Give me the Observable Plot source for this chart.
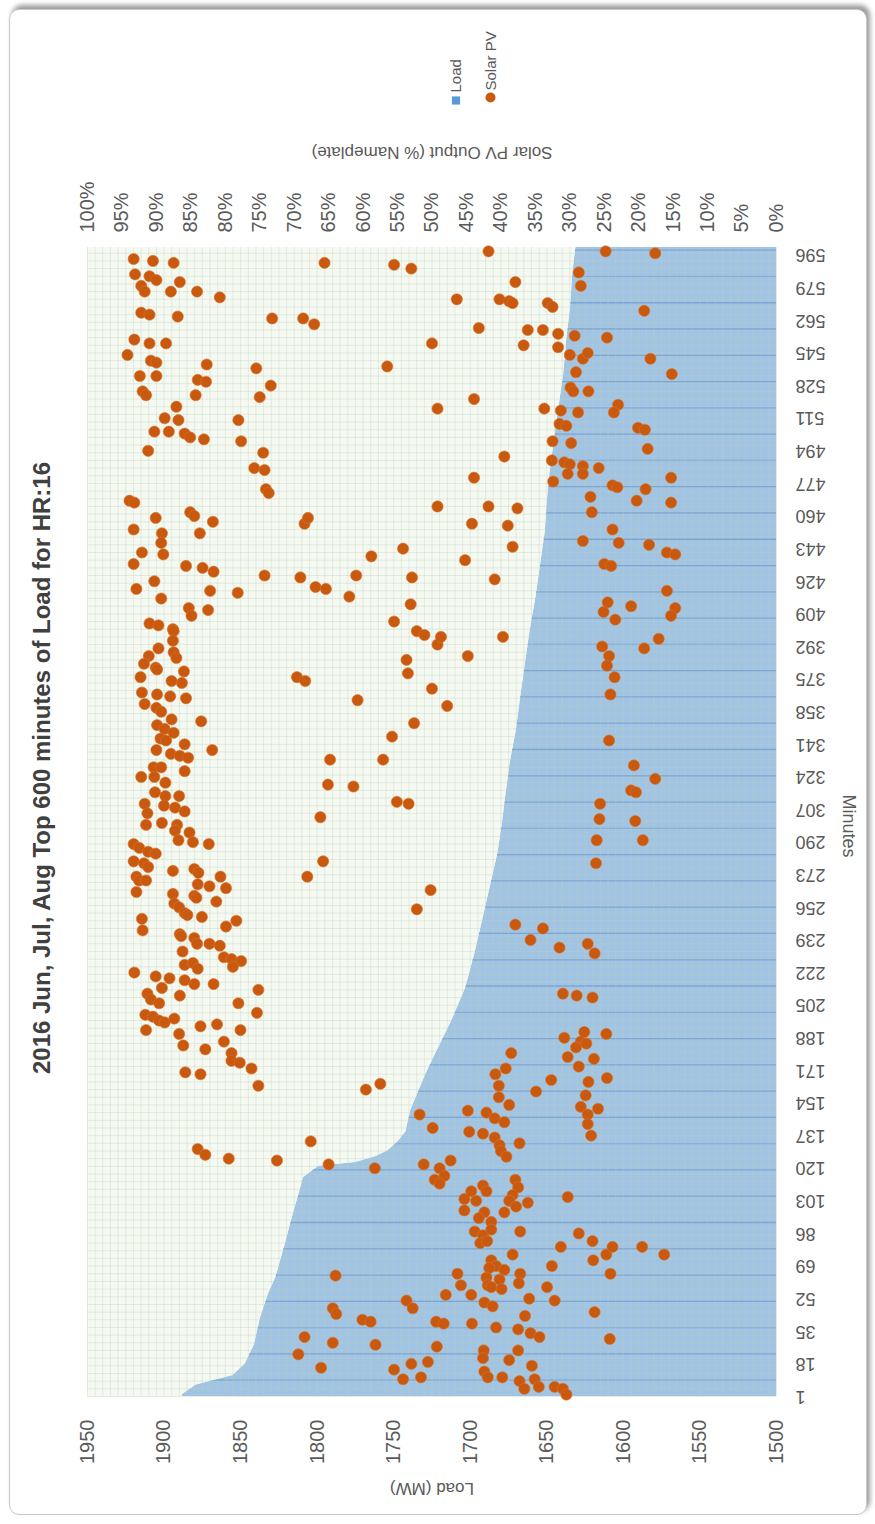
<!DOCTYPE html>
<html>
<head>
<meta charset="utf-8">
<script src="https://cdn.jsdelivr.net/npm/d3@7"></script>
<script src="https://cdn.jsdelivr.net/npm/@observablehq/plot@0.6"></script>
<style>
  html, body { margin: 0; padding: 0; background: #ffffff; }
  #wrap { position: relative; width: 875px; height: 1524px; overflow: hidden; }
  #card { position: absolute; left: 9px; top: 9px; width: 856px; height: 1504px;
          border: 1.5px solid #c9c9c9; border-radius: 10px; background: #ffffff;
          box-shadow: 3px -4px 5px rgba(0,0,0,0.40); }
  #chart { position: absolute; left: 0; top: 0; }
</style>
</head>
<body>
<div id="wrap"><div id="card"></div><div id="chart"></div></div>
<script>
// ---------- data ----------
const title = "2016 Jun, Jul, Aug Top 600 minutes of Load for HR:16";
const minuteTicks = [1,18,35,52,69,86,103,120,137,154,171,188,205,222,239,256,273,290,307,324,341,358,375,392,409,426,443,460,477,494,511,528,545,562,579,596];
const loadTicks = [1950,1900,1850,1800,1750,1700,1650,1600,1550,1500];
const pctTicks = [100,95,90,85,80,75,70,65,60,55,50,45,40,35,30,25,20,15,10,5,0];

// Load (MW) sorted, read at breakpoints
const loadMinute = [1,2,7,12,18,28,42,54,63,80,98,106,115,121,123,126,129,134,139,150,169,179,197,214,232,249,270,284,300,313,331,348,366,383,400,418,435,452,465,482,500,517,534,552,569,587,600];
const loadMW     = [1888,1888,1879,1855,1847,1841,1837,1832,1827,1821,1815,1812,1809,1799,1775,1762,1754,1747,1742,1739,1729,1723,1712,1703,1697,1692,1686,1682,1679,1677,1674,1670,1667,1664,1661,1657,1654,1651,1650,1648,1645,1642,1639,1637,1634.5,1633,1631];

// Solar PV output (% of nameplate) per minute
const solarMinute = [
594,593,592,586,585,583,580,577,577,582,577,574,566,565,564,563,563,560,592,591,589,550,552,550,550,544,541,540,539,533,533,531,530,525,523,523,537,528,522,517,511,510,504,504,503,501,500,494,510,499,493,485,484,474,472,468,467,459,462,460,457,453,451,451,456,459,516,465,538,
598,598,597,587,580,582,573,573,572,571,571,569,567,558,557,557,555,554,549,548,553,544,542,545,542,535,534,527,525,525,521,516,515,514,518,514,508,507,506,505,499,498,495,491,489,488,487,486,482,482,485,480,478,476,475,480,474,465,464,470,468,467,462,456,455,453,
446,440,441,435,434,433,431,426,422,417,421,420,412,408,411,429,428,423,422,429,439,443,428,418,414,405,400,398,393,404,403,401,400,395,391,387,383,389,386,381,380,379,373,376,374,368,362,367,366,365,360,358,354,351,349,347,344,343,353,341,338,338,336,335,334,329,329,324,324,327,316,321,314,314,310,305,309,308,306,300,299,376,374,364,385,378,370,352,345,333,333,320,319,311,310,303,
444,437,427,397,397,387,361,447,446,445,441,440,435,434,421,415,410,406,413,412,408,396,391,392,387,382,376,367,343,330,323,317,316,310,302,301,
299,296,291,295,290,289,289,287,285,284,280,279,277,275,276,274,272,272,270,270,268,267,266,264,263,258,256,253,252,262,261,259,251,250,244,246,249,242,241,240,237,237,236,233,230,229,228,225,226,227,224,222,220,219,218,216,216,214,211,208,206,210,200,199,197,196,198,192,194,195,190,184,186,182,180,176,175,172,170,169,163,213,206,201,192,280,272,265,255,161,164,148,
291,291,279,247,245,239,235,237,232,211,210,209,188,191,186,183,185,190,178,177,173,180,172,169,166,160,165,167,163,157,153,158,152,151,150,149,
130,127,125,124,134,122,120,141,122,114,64,47,44,41,40,51,47,32,29,28,23,16,15,10,18,11,19,40,27,
146,144,139,138,136,132,129,126,133,148,143,137,120,124,116,112,114,110,106,103,97,100,102,111,108,108,104,103,98,97,94,92,87,85,88,81,82,105,87,86,82,75,79,79,75,79,75,72,65,69,72,69,68,67,65,60,65,59,54,63,59,62,57,58,54,58,52,51,50,48,45,43,39,39,37,36,34,32,31,25,21,25,20,17,14,11,11,9,5,10,6,6,5,2
];
const solarPct = [
93.3,90.5,87.5,93.1,91.0,90.0,92.2,91.7,87.9,86.6,84.1,80.8,92.2,91.0,86.9,73.2,68.7,67.1,65.6,55.5,53.0,50.0,93.2,91.0,88.6,94.2,90.8,90.0,82.7,92.4,90.0,84.0,82.8,92.0,91.5,84.3,75.5,73.4,75.0,87.1,88.8,86.8,90.3,88.2,85.9,85.1,83.1,91.2,78.1,77.7,74.5,75.8,74.3,74.1,73.7,93.9,93.2,90.1,85.1,84.5,81.8,93.3,89.2,83.7,68.5,68.0,49.2,49.2,56.5,
41.8,24.8,17.6,28.7,28.4,37.9,46.4,40.2,38.8,38.3,33.2,32.5,19.2,43.2,36.1,33.9,31.7,29.3,36.7,31.7,24.6,30.0,28.1,27.4,18.3,29.1,15.2,29.9,29.5,27.3,43.9,33.7,31.3,28.8,23.0,23.6,31.5,30.5,20.1,19.1,32.5,29.8,18.7,39.5,32.6,30.8,30.0,28.1,28.1,30.3,25.8,43.9,32.4,23.8,23.1,15.3,19.0,41.8,37.6,27.0,20.3,15.3,26.8,44.2,39.0,23.8,
89.3,89.0,92.1,93.3,85.7,83.3,81.7,90.3,92.9,89.3,82.2,78.2,85.3,84.9,82.5,74.3,69.1,66.9,65.4,61.0,58.8,54.2,52.9,62.0,53.1,55.5,52.2,51.1,49.2,91.0,89.7,87.6,87.5,87.6,89.7,91.1,91.8,87.5,87.1,90.1,89.9,86.0,86.3,92.3,87.8,92.1,91.7,89.9,88.0,85.7,90.0,89.3,87.8,89.9,88.8,87.5,89.4,88.6,83.5,85.9,81.9,90.0,87.9,86.6,85.4,90.4,89.3,90.3,92.2,85.9,90.2,88.7,88.7,86.7,91.7,91.3,88.9,87.3,85.9,89.2,87.0,69.6,68.4,60.8,53.7,53.5,50.0,52.6,55.8,64.8,57.1,65.1,61.4,55.1,53.4,66.2,
38.3,45.2,40.9,48.7,39.7,44.8,47.8,28.1,22.9,18.5,15.9,14.7,25.0,24.0,15.9,24.5,25.1,23.4,21.1,14.7,15.3,17.1,19.2,25.3,24.3,24.6,23.5,24.1,24.3,20.7,17.6,21.1,20.4,25.6,25.7,20.5,
91.5,87.3,86.8,85.2,84.7,82.4,93.3,92.5,91.2,90.1,93.3,91.8,91.2,87.6,84.5,83.9,80.7,92.9,92.5,91.5,84.0,82.3,79.9,92.9,87.6,87.4,86.7,85.9,85.5,84.5,84.2,81.3,83.4,92.1,92.0,79.9,78.4,86.6,86.4,84.5,84.1,82.3,80.8,86.2,80.2,79.1,77.7,78.9,85.9,84.7,84.0,93.2,90.1,88.1,85.9,84.5,81.7,89.2,91.3,90.8,89.6,86.6,91.6,90.5,89.6,88.8,87.4,91.5,83.6,81.2,86.7,86.1,80.2,82.9,79.1,79.1,77.9,76.2,85.8,83.6,75.2,75.2,78.1,75.4,77.8,65.8,68.1,50.2,52.2,59.6,57.5,51.8,
19.4,26.1,26.2,37.9,33.9,35.7,31.5,27.4,26.4,31.0,29.0,26.7,30.8,27.9,28.4,29.1,27.6,24.7,30.3,26.5,28.7,38.5,39.3,40.8,32.7,34.9,27.3,24.6,40.3,40.3,38.8,27.7,28.4,25.9,44.8,42.1,
84.0,82.9,79.5,72.5,67.6,65.0,58.3,49.9,51.2,49.6,64.0,64.4,63.9,60.1,58.9,53.7,52.8,68.5,64.4,58.2,69.4,66.1,55.5,54.2,53.0,51.6,50.6,49.4,49.3,
40.9,39.5,44.6,42.6,40.9,40.2,40.0,39.2,37.3,27.4,27.4,26.9,48.9,47.3,48.2,48.9,37.9,37.5,38.3,38.8,39.5,37.8,36.1,42.6,42.1,44.3,45.3,43.6,45.3,42.4,43.2,41.4,43.8,42.6,41.4,43.0,42.0,30.3,37.2,28.7,26.7,24.7,23.8,19.5,16.3,31.3,38.3,26.6,24.1,32.6,41.4,40.7,41.7,39.5,37.2,37.4,46.3,45.8,44.3,42.1,41.9,40.2,39.9,41.4,48.0,33.3,35.9,32.2,42.4,41.2,26.4,36.5,48.3,44.2,40.7,37.5,35.7,34.4,24.2,42.5,42.6,37.5,38.8,35.5,42.4,41.9,39.8,37.3,36.6,35.1,34.5,32.2,31.0,30.5
];

// ---------- build rows ----------
const loadRows = loadMinute.map((m, i) => ({minute: m, mw: loadMW[i]}));
const solarRows = solarMinute.map((m, i) => ({minute: m, pct: solarPct[i]}));
// secondary axis: 0 % sits on 1500 MW, 100 % on 1950 MW
const pctToLoad = p => 1500 + 4.5 * p;

const BLUE = "#a2c4e4", PALE = "#f5f9f2", ORANGE = "#c8590f", GRAY = "#595959";
const FONT = "Liberation Sans, Arial, sans-serif";
const T = {lineAnchor: "middle"};

const chart = Plot.plot({
  width: 875, height: 1524,
  marginLeft: 87, marginRight: 99, marginTop: 247, marginBottom: 128,
  x: {domain: [1950, 1500], axis: null},
  y: {domain: [1, 600], axis: null},
  style: {background: "transparent", fontFamily: FONT},
  marks: [
    Plot.frame({fill: PALE, stroke: null}),
    Plot.areaX(loadRows, {y: "minute", x1: 1500, x2: "mw", fill: BLUE}),
    Plot.ruleY(d3.range(9.5, 600, 13.7), {stroke: "#7aa4d3", strokeWidth: 1.3}),
    Plot.areaX(loadRows, {y: "minute", x1: "mw", x2: 1950, fill: PALE}),
    Plot.ruleX(d3.range(1500, 1951, 5), {stroke: "#b8d0b8", strokeOpacity: 0.35}),
    Plot.ruleY(d3.range(1, 601, 4), {stroke: "#b8d0b8", strokeOpacity: 0.35}),
    Plot.dot(solarRows, {x: d => pctToLoad(d.pct), y: "minute", r: 5.6, fill: ORANGE, stroke: "#d9732e", strokeWidth: 0.6}),

    // axes
    Plot.text(loadTicks, {...T, x: d => d, text: d => String(d), frameAnchor: "bottom", dy: 23, rotate: -90, textAnchor: "end", fontSize: 20, fill: GRAY}),
    Plot.text(pctTicks, {...T, x: p => pctToLoad(p), text: p => p + "%", frameAnchor: "top", dy: -15, rotate: -90, textAnchor: "start", fontSize: 20, fill: GRAY}),
    Plot.text(minuteTicks, {...T, y: d => d, text: d => String(d), frameAnchor: "right", dx: 19, rotate: 180, textAnchor: "end", fontSize: 18, fill: GRAY}),

    // titles
    Plot.text([title], {...T, frameAnchor: "left", dx: -45, dy: -54, rotate: -90, textAnchor: "middle", fontSize: 24, fontWeight: "bold", fill: "#404040"}),
    Plot.text(["Minutes"], {...T, frameAnchor: "right", dx: 72, dy: 4, rotate: 90, textAnchor: "middle", fontSize: 18, fill: GRAY}),
    Plot.text(["Load (MW)"], {...T, frameAnchor: "bottom", dy: 92, rotate: 180, textAnchor: "middle", fontSize: 17, fill: GRAY}),
    Plot.text(["Solar PV Output (% Nameplate)"], {...T, frameAnchor: "top", dy: -95, rotate: 180, textAnchor: "middle", fontSize: 17, fill: GRAY}),

    // legend
    Plot.dot(["Load"], {frameAnchor: "top", dx: 24, dy: -147, symbol: "square", r: 4.6, fill: "#5b9bd5"}),
    Plot.text(["Load"], {...T, frameAnchor: "top", dx: 24.5, dy: -155, rotate: -90, textAnchor: "start", fontSize: 15, fill: GRAY}),
    Plot.dot(["Solar PV"], {frameAnchor: "top", dx: 58.5, dy: -150, r: 5, fill: ORANGE}),
    Plot.text(["Solar PV"], {...T, frameAnchor: "top", dx: 59.5, dy: -157, rotate: -90, textAnchor: "start", fontSize: 15, fill: GRAY})
  ]
});
document.getElementById("chart").appendChild(chart);
</script>
</body>
</html>
